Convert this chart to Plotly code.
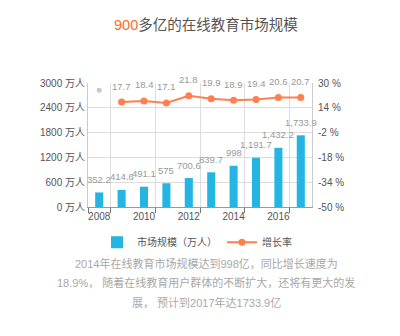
import plotly.graph_objects as go

# ---- data ----
years = [2008, 2009, 2010, 2011, 2012, 2013, 2014, 2015, 2016, 2017]
market_size = [352.2, 414.6, 491.1, 575, 700.6, 839.7, 998, 1191.7, 1432.2, 1733.9]
growth_years = [2009, 2010, 2011, 2012, 2013, 2014, 2015, 2016, 2017]
growth_rate = [17.7, 18.4, 17.1, 21.8, 19.9, 18.9, 19.4, 20.6, 20.7]
stray_years = [2008]
stray_values = [25.4]
x_tick_years = [2008, 2010, 2012, 2014, 2016]
left_ticks = [0, 600, 1200, 1800, 2400, 3000]
right_ticks = [-50, -34, -18, -2, 14, 30]
title_num = "900"
title_rest = "多亿的在线教育市场规模"
bar_name = "市场规模（万人）"
line_name = "增长率"
para_lines = [
    "2014年在线教育市场规模达到998亿，同比增长速度为",
    "18.9%， 随着在线教育用户群体的不断扩大，还将有更大的发",
    "展， 预计到2017年达1733.9亿",
]

FONT = "Liberation Sans, Noto Sans CJK SC, sans-serif"
BAR_C = "#25b5e3"
LINE_C = "#ff7f50"
LBL_C = "#999999"

W, H = 400, 336
L, R, T, B = 88, 88, 82.5, 128.5
ph = H - T - B
pw = W - L - R

def py(pix):
    return (H - B - pix) / ph

def px(pix):
    return (pix - L) / pw

def fmt(v):
    return f"{v:,}"

fig = go.Figure()
fig.add_trace(go.Bar(
    x=years, y=market_size, name=bar_name, width=0.36,
    marker=dict(color=BAR_C, line=dict(width=0)), yaxis="y",
))
fig.add_trace(go.Scatter(
    x=growth_years, y=growth_rate, name=line_name, mode="lines+markers",
    line=dict(color=LINE_C, width=2), marker=dict(size=7, color=LINE_C),
    yaxis="y2",
))
fig.add_trace(go.Scatter(
    x=stray_years, y=stray_values, mode="markers", showlegend=False,
    marker=dict(size=5, color="#c8c8c8"), yaxis="y2", hoverinfo="skip",
))

ann = []
for xv, yv in zip(years, market_size):
    ann.append(dict(x=xv, y=yv, xref="x", yref="y", text=fmt(yv),
                    showarrow=False, yshift=13, yanchor="middle",
                    font=dict(size=9.5, color=LBL_C, family=FONT)))
for xv, yv in zip(growth_years, growth_rate):
    ann.append(dict(x=xv, y=yv, xref="x", yref="y2", text=f"{yv}",
                    showarrow=False, yshift=16, yanchor="middle",
                    font=dict(size=9.5, color=LBL_C, family=FONT)))
for i, line in enumerate(para_lines):
    ann.append(dict(x=px(206), y=py(264 + 20 * i), xref="paper", yref="paper",
                    text=line, showarrow=False, xanchor="center", yanchor="middle",
                    font=dict(size=11, color="#a8a8a8", family=FONT)))
ann.append(dict(x=px(206), y=1 + (T - 24) / ph, xref="paper", yref="paper",
                text=f"<span style='color:#ff6a2a'>{title_num}</span>{title_rest}",
                showarrow=False, xanchor="center", yanchor="middle",
                font=dict(size=14.5, color="#555555", family=FONT)))

fig.update_layout(
    width=W, height=H,
    margin=dict(l=L, r=R, t=T, b=B, autoexpand=False),
    paper_bgcolor="white", plot_bgcolor="white",
    font=dict(family=FONT, size=10, color="#555555"),
    showlegend=True,
    legend=dict(orientation="h", x=px(197), xanchor="center", y=py(243), yanchor="middle",
                font=dict(size=10, color="#555555", family=FONT), itemwidth=30,
                bgcolor="rgba(0,0,0,0)"),
    xaxis=dict(
        type="linear", range=[2007.5, 2017.5],
        tickvals=x_tick_years, ticktext=[str(v) for v in x_tick_years],
        ticks="", showgrid=False, zeroline=False,
        showline=True, linecolor="#999999", linewidth=1,
        tickfont=dict(size=10, color="#555555"),
        minor=dict(tickvals=[2007.5, 2008.5, 2010.5, 2012.5, 2014.5, 2016.5],
                   ticks="outside", ticklen=5, tickcolor="#777777",
                   showgrid=True, gridcolor="#dddddd", gridwidth=1),
    ),
    yaxis=dict(
        range=[0, 3000], tickvals=left_ticks, ticktext=[f"{v} 万人" for v in left_ticks],
        showgrid=True, gridcolor="#dddddd", zeroline=False,
        showline=True, linecolor="#cccccc", ticks="",
        tickfont=dict(size=10, color="#555555"),
    ),
    yaxis2=dict(
        range=[-50, 30], tickvals=right_ticks, ticktext=[f"{v} %" for v in right_ticks],
        overlaying="y", side="right", showgrid=False, zeroline=False,
        showline=True, linecolor="#cccccc", ticks="outside", ticklen=3, tickcolor="rgba(0,0,0,0)",
        tickfont=dict(size=10, color="#555555"),
    ),
    annotations=ann,
)

fig.write_html("out.html")
